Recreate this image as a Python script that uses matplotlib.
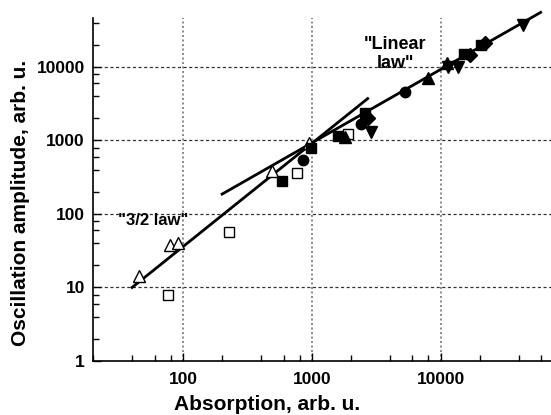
import matplotlib
matplotlib.use("Agg")
import matplotlib.pyplot as plt
from matplotlib.ticker import FixedLocator, NullFormatter

plt.rcParams['font.family'] = ['Liberation Sans', 'DejaVu Sans']
plt.rcParams['font.weight'] = 'bold'

# Data
open_tri_x = [45, 79, 91, 487, 951]
open_tri_y = [14.3, 37.7, 40.5, 382, 910]
open_sq_x = [76, 227, 762, 1914]
open_sq_y = [8.0, 57, 356, 1218]
sq_x = [583, 979, 1578, 2564, 15100, 20400]
sq_y = [277, 778, 1144, 2328, 14930, 20000]
circ_x = [855, 2400, 5284]
circ_y = [540, 1652, 4540]
tri_up_x = [1803, 7930, 11100]
tri_up_y = [1099, 6980, 11100]
tri_dn_x = [2840, 11400, 13550, 43500]
tri_dn_y = [1310, 9830, 9830, 37000]
dia_x = [2735, 16700, 21900]
dia_y = [1992, 14500, 20900]

law32_x = [40, 2700]
law32_y = [10, 3700]
lin_x = [200, 59400]
lin_y = [186, 55000]

x_major = [100, 1000, 10000]
y_major = [1, 10, 100, 1000, 10000]
x_labels = ['100', '1000', '10000']
y_labels = ['1', '10', '100', '1000', '10000']

W, H = 551, 415
fig = plt.figure(figsize=(W / 100, H / 100), dpi=100)
left, right, bottom, top = 93.3, 551, 361, 18.3
ax = fig.add_axes([left / W, (H - bottom) / H, (right - left) / W, (bottom - top) / H])

ax.set_xscale('log')
ax.set_yscale('log')
ax.set_xlim(20, 71500)
ax.set_ylim(1, 45700)

# grid lines
for v in [10, 100, 1000, 10000]:
    ax.axhline(v, color='#333333', lw=0.9, ls=(0, (2.5, 2)), zorder=0)
for v in x_major:
    ax.axvline(v, color='#777777', lw=1.2, ls=(0, (1.2, 1.5)), zorder=0)

# fit lines
ax.plot(law32_x, law32_y, color='black', lw=2, zorder=2, clip_on=False)
ax.plot(lin_x, lin_y, color='black', lw=2, zorder=2, clip_on=False)

ms = 7.5
ax.plot(open_tri_x, open_tri_y, ls='none', marker='^', ms=ms + 1, mfc='white', mec='black', mew=1, zorder=3)
ax.plot(open_sq_x, open_sq_y, ls='none', marker='s', ms=ms - 0.5, mfc='white', mec='black', mew=1, zorder=3)
ax.plot(sq_x, sq_y, ls='none', marker='s', ms=ms - 0.5, color='black', zorder=3)
ax.plot(circ_x, circ_y, ls='none', marker='o', ms=ms, color='black', zorder=3)
ax.plot(tri_up_x, tri_up_y, ls='none', marker='^', ms=ms + 1, color='black', zorder=3)
ax.plot(tri_dn_x, tri_dn_y, ls='none', marker='v', ms=ms + 1, color='black', zorder=3)
ax.plot(dia_x, dia_y, ls='none', marker='D', ms=ms - 0.5, color='black', zorder=3)

# ticks
ax.xaxis.set_major_locator(FixedLocator(x_major))
ax.yaxis.set_major_locator(FixedLocator(y_major))
xminor = [m * 10 ** e for e in range(1, 5) for m in (2, 4, 6, 8)]
yminor = [m * 10 ** e for e in range(0, 5) for m in (2, 4, 6, 8)]
ax.xaxis.set_minor_locator(FixedLocator(xminor))
ax.yaxis.set_minor_locator(FixedLocator(yminor))
ax.xaxis.set_minor_formatter(NullFormatter())
ax.yaxis.set_minor_formatter(NullFormatter())
ax.set_xticklabels(x_labels)
ax.set_yticklabels(y_labels)
ax.tick_params(which='major', direction='in', length=6, width=1, labelsize=12.5)
ax.tick_params(axis='y', which='major', pad=6)
ax.tick_params(axis='x', which='major', pad=8)
ax.tick_params(which='minor', direction='in', length=4, width=1)
for lab in ax.get_xticklabels() + ax.get_yticklabels():
    lab.set_fontweight('bold')

for s in ['top', 'right']:
    ax.spines[s].set_visible(False)
for s in ['left', 'bottom']:
    ax.spines[s].set_linewidth(1.2)

def px(x, y):
    return x / W, 1 - y / H

fig.text(*px(267, 395), 'Absorption, arb. u.', ha='center', va='top', fontsize=15, fontweight='bold')
fig.text(*px(21, 203), 'Oscillation amplitude, arb. u.', ha='center', va='center', rotation=90,
         fontsize=15, fontweight='bold')

fig.text(*px(395, 54), '"Linear\nlaw"', ha='center', va='center', fontsize=13,
         fontweight='bold', linespacing=1.1, zorder=4)
fig.text(*px(153, 220), '"3/2 law"', ha='center', va='center', fontsize=12,
         fontweight='bold', zorder=4)

fig.savefig('out.png', dpi=100)
